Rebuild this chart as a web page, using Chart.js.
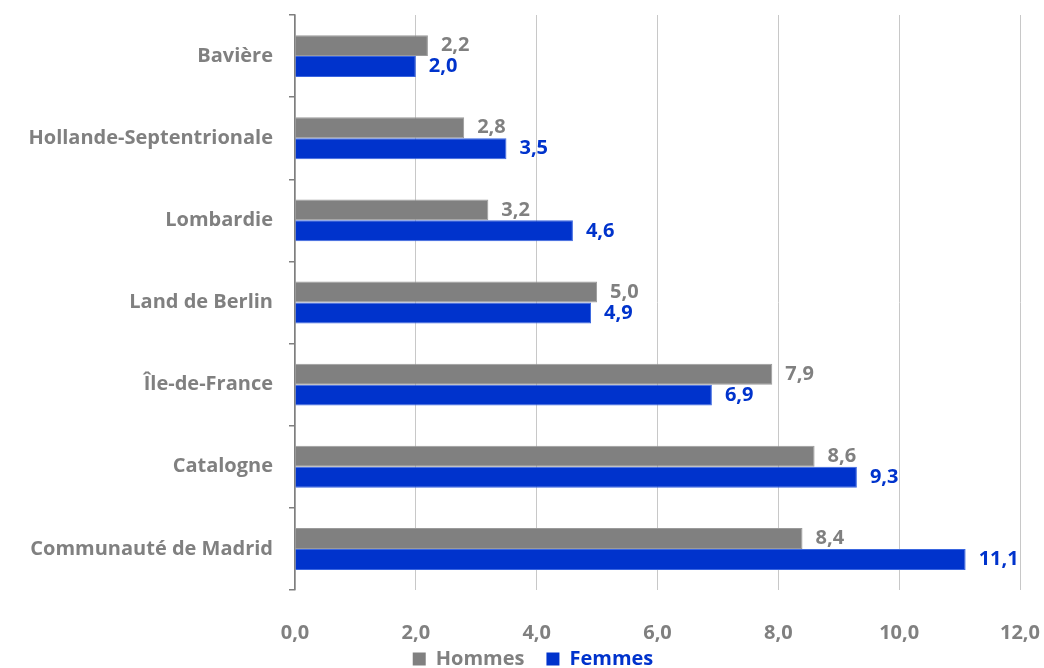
<!DOCTYPE html>
<html lang="fr">
<head>
<meta charset="utf-8">
<script src="https://cdn.jsdelivr.net/npm/chart.js@4.4.1/dist/chart.umd.min.js"></script>
<style>
  body { margin: 0; background: #fff; overflow: hidden; }
  #wrap { width: 1044px; height: 668px; position: relative; }
  canvas { display: block; }
</style>
</head>
<body>
<div id="wrap"><canvas id="chart"></canvas></div>
<script>
// Données
const regions = ['Bavière', 'Hollande-Septentrionale', 'Lombardie', 'Land de Berlin', 'Île-de-France', 'Catalogne', 'Communauté de Madrid'];
const hommes = [2.2, 2.8, 3.2, 5.0, 7.9, 8.6, 8.4];
const femmes = [2.0, 3.5, 4.6, 4.9, 6.9, 9.3, 11.1];
const xTicks = [0, 2, 4, 6, 8, 10, 12];

const GRIS = '#808080';
const BLEU = '#0033cc';
const FONT = '"Open Sans", "Noto Sans", sans-serif';

const fmt = v => v.toFixed(1).replace('.', ',');

// Étiquettes au bout des barres
const valueLabels = {
  id: 'valueLabels',
  afterDatasetsDraw(chart) {
    const ctx = chart.ctx;
    ctx.save();
    ctx.font = `bold 20px ${FONT}`;
    ctx.textAlign = 'left';
    ctx.textBaseline = 'middle';
    chart.data.datasets.forEach((ds, i) => {
      const meta = chart.getDatasetMeta(i);
      ctx.fillStyle = ds.labelColor;
      meta.data.forEach((bar, j) => {
        ctx.fillText(fmt(ds.data[j]), bar.x + 13, bar.y);
      });
    });
    ctx.restore();
  }
};

// Légende : on agrandit la boîte vers le haut pour garder un grand espacement entre les items
const legendShift = {
  id: 'legendShift',
  afterLayout(chart) {
    const lg = chart.legend;
    lg.top -= 19;
    lg.height += 19;
    lg.left += 23; lg.right += 23;
  }
};

new Chart(document.getElementById('chart'), {
  type: 'bar',
  data: {
    labels: regions,
    datasets: [
      { label: 'Hommes', data: hommes, backgroundColor: GRIS, borderColor: '#9a9a9a', borderWidth: 1, labelColor: GRIS },
      { label: 'Femmes', data: femmes, backgroundColor: BLEU, borderColor: '#3a66e0', borderWidth: 1, labelColor: BLEU }
    ]
  },
  options: {
    indexAxis: 'y',
    responsive: true,
    maintainAspectRatio: false,
    animation: false,
    layout: { padding: { top: 15, right: 24, left: 0, bottom: 0 } },
    datasets: { bar: { barPercentage: 1, categoryPercentage: 0.51 } },
    scales: {
      x: {
        min: 0,
        max: 12,
        afterBuildTicks: scale => { scale.ticks = xTicks.map(v => ({ value: v })); },
        afterFit: scale => { scale.height = 56; scale.paddingLeft = 0; scale.paddingRight = 0; },
        border: { display: false },
        grid: { color: '#c8c8c8', lineWidth: 1, drawTicks: false },
        ticks: {
          callback: v => fmt(v),
          color: GRIS,
          font: { family: FONT, size: 20, weight: 'bold' },
          padding: 31
        }
      },
      y: {
        afterFit: scale => { scale.width = 295; scale.paddingTop = 0; scale.paddingBottom = 0; },
        border: { display: true, color: '#7f7f7f', width: 1.5 },
        grid: { drawOnChartArea: false, drawTicks: true, tickLength: 6, color: '#7f7f7f', lineWidth: 1.5 },
        ticks: {
          color: GRIS,
          font: { family: FONT, size: 20, weight: 'bold' },
          padding: 16
        }
      }
    },
    plugins: {
      legend: {
        position: 'bottom',
        maxHeight: 22,
        labels: {
          boxWidth: 13,
          boxHeight: 13,
          padding: 22,
          font: { family: FONT, size: 20, weight: 'bold' },
          generateLabels: chart => chart.data.datasets.map((ds, i) => ({
            text: ds.label,
            fillStyle: ds.backgroundColor,
            strokeStyle: ds.backgroundColor,
            lineWidth: 0,
            fontColor: ds.labelColor,
            datasetIndex: i,
            hidden: false
          }))
        }
      },
      tooltip: { enabled: false }
    }
  },
  plugins: [valueLabels, legendShift]
});
</script>
</body>
</html>
